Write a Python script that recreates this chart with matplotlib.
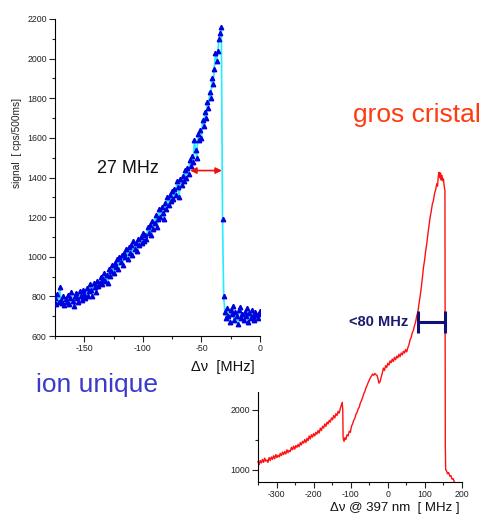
import numpy as np
import matplotlib
matplotlib.use('Agg')
import matplotlib.pyplot as plt

# -----------------------------
# Data
# -----------------------------
# single ion scan: frequency grid (MHz) and counts (cps/500ms)
ion_freq = np.arange(-175, 1)
ion_signal = [
    790, 760, 810, 770, 845, 780, 765, 800, 755, 785,
    770, 805, 760, 790, 820, 775, 750, 800, 815, 790,
    770, 825, 800, 780, 830, 810, 790, 840, 800, 825,
    860, 830, 800, 870, 845, 820, 880, 850, 870, 900,
    860, 890, 920, 880, 910, 870, 940, 905, 930, 960,
    920, 970, 950, 990, 940, 1000, 975, 1010, 960, 1020,
    1000, 1040, 990, 1050, 1020, 1060, 1010, 1080, 1040, 1070,
    1030, 1090, 1060, 1100, 1070, 1120, 1080, 1110, 1090, 1150,
    1120, 1160, 1110, 1180, 1140, 1170, 1210, 1150, 1190, 1240,
    1200, 1250, 1220, 1190, 1270, 1240, 1300, 1260, 1310, 1280,
    1330, 1290, 1340, 1310, 1380, 1350, 1300, 1390, 1360, 1410,
    1380, 1440, 1400, 1450, 1420, 1490, 1460, 1510, 1480, 1590,
    1540, 1500, 1620, 1590, 1640, 1600, 1690, 1660, 1730, 1700,
    1780, 1750, 1830, 1800, 1900, 1870, 1950, 2030, 1990, 2040,
    2100, 2130, 2160,
    1190, 800,
    720, 690, 740, 700, 670, 730, 710, 750, 680, 720,
    700, 660, 730, 745, 690, 710, 680, 720, 700, 740,
    670, 715, 690, 730, 700, 680, 720, 705, 690, 710,
    725,
]

# large crystal scan (MHz @ 397 nm) and counts
crystal_freq_low = np.arange(-350, -124, 3)          # slow rising wing
crystal_signal_low = [
    1130, 1080, 1150, 1110, 1170, 1120, 1190, 1140, 1160, 1120,
    1200, 1150, 1210, 1170, 1230, 1180, 1250, 1200, 1240, 1210,
    1270, 1230, 1290, 1250, 1300, 1260, 1330, 1280, 1320, 1300,
    1370, 1330, 1390, 1340, 1400, 1370, 1420, 1380, 1450, 1410,
    1470, 1440, 1500, 1450, 1520, 1480, 1560, 1510, 1580, 1540,
    1600, 1560, 1620, 1590, 1650, 1610, 1690, 1650, 1720, 1690,
    1760, 1720, 1790, 1760, 1820, 1790, 1860, 1830, 1900, 1860,
    1930, 1900, 1970, 1940, 2020, 2080,
]
crystal_freq_high = [
    -123, -121.5, -120.5, -118,
    -116, -113, -110, -107, -104, -101, -98, -95, -92, -89,
    -86, -83, -80, -77, -74, -71, -68, -65, -62, -59,
    -56, -53, -50, -47, -44, -41, -38, -35, -32, -29,
    -26, -24, -21, -18, -15, -12, -9, -6, -3, 0,
    3, 6, 9, 12, 15, 18, 21, 24, 27, 30,
    33, 36, 39, 42, 45, 48, 51, 54, 57, 60,
    63, 66, 69, 72, 75, 78, 81, 84, 87, 90,
    93, 96, 99, 102, 105, 108, 111, 114, 117, 120,
    123, 126, 129, 132, 134, 136, 138, 140, 142, 144,
    146, 148, 150, 152, 154, 155, 156, 158, 161, 164,
    167, 170, 173, 176, 179,
]
crystal_signal_high = [
    2120, 2000, 1520, 1470,
    1530, 1500, 1580, 1560, 1640, 1620, 1720, 1760, 1820, 1850,
    1920, 1950, 2010, 2040, 2110, 2150, 2200, 2260, 2300, 2360,
    2400, 2450, 2490, 2530, 2560, 2590, 2570, 2600, 2580, 2570,
    2500, 2440, 2460, 2540, 2600, 2690, 2650, 2730, 2700, 2770,
    2740, 2810, 2780, 2840, 2800, 2870, 2830, 2890, 2860, 2920,
    2880, 2940, 2910, 2970, 2940, 3000, 2960, 3030, 3080, 3160,
    3200, 3280, 3320, 3400, 3460, 3560, 3620, 3760, 3880, 4020,
    4180, 4360, 4480, 4640, 4760, 4920, 5060, 5200, 5300, 5420,
    5480, 5600, 5660, 5760, 5720, 5880, 5950, 5860, 5940, 5820,
    5900, 5810, 5840, 5720, 5650, 1400, 1000, 980, 930, 950,
    890, 900, 840, 850, 800,
]

# linewidth markers
arrow_27 = (-59.7, -32.5, 1435)        # x0, x1, y
bar_80 = (82.7, 155.0, 3460)           # x0, x1, y

W, H = 485, 519
plt.rcParams.update({
    'font.family': ['Liberation Sans', 'DejaVu Sans'],
    'font.size': 7,
    'axes.unicode_minus': False,
    'xtick.labelsize': 6.3,
    'ytick.labelsize': 6.3,
    'xtick.color': '#222222',
    'ytick.color': '#222222',
})

fig = plt.figure(figsize=(W / 100, H / 100), dpi=100)


def box(x0, y0, x1, y1):
    # pixel box (top-left origin) -> figure fraction rect
    return [x0 / W, 1 - y1 / H, (x1 - x0) / W, (y1 - y0) / H]


def ftxt(x, y, s, **kw):
    fig.text(x / W, 1 - y / H, s, **kw)


# -----------------------------
# right: big crystal
# -----------------------------
ax2 = fig.add_axes(box(258, 150, 462, 482))
ax2.set_facecolor('none')
crystal_freq = np.concatenate([crystal_freq_low, crystal_freq_high])
crystal_signal = crystal_signal_low + crystal_signal_high
ax2.plot(crystal_freq, crystal_signal, color='#ff1010', lw=1.0, clip_on=False)
ax2.set_xlim(-350, 200)
ax2.set_ylim(793, 6322)
for s in ('top', 'right'):
    ax2.spines[s].set_visible(False)
ax2.spines['left'].set_bounds(793, 2293)
ax2.set_xticks([-300, -200, -100, 0, 100, 200])
ax2.set_xticks(np.arange(-350, 201, 50), minor=True)
ax2.set_yticks([1000, 2000])
ax2.set_yticks([1500], minor=True)
ax2.tick_params(which='major', length=4, width=0.8, pad=2)
ax2.tick_params(which='minor', length=2.5, width=0.8)

x0, x1, yb = bar_80
ax2.errorbar((x0 + x1) / 2, yb, xerr=(x1 - x0) / 2, color='#10107a',
             elinewidth=2.2, capsize=8, capthick=2.2, fmt='none', zorder=6)

# -----------------------------
# left: single ion
# -----------------------------
ax1 = fig.add_axes(box(55, 19, 260, 336))
ax1.set_facecolor('none')
ax1.plot(ion_freq, ion_signal, color='#22eeff', lw=1.2, zorder=2)
ax1.plot(ion_freq, ion_signal, ls='none', marker='^', ms=3.2,
         color='#0000dd', mec='#0000dd', zorder=3)
ax1.set_xlim(-175, 0)
ax1.set_ylim(600, 2200)
for s in ('top', 'right'):
    ax1.spines[s].set_visible(False)
ax1.set_xticks([-150, -100, -50, 0])
ax1.set_xticks(np.arange(-175, 1, 25), minor=True)
ax1.set_yticks(np.arange(600, 2201, 200))
ax1.set_yticks(np.arange(700, 2200, 200), minor=True)
ax1.tick_params(which='major', length=4, width=0.8, pad=2)
ax1.tick_params(which='minor', length=2.5, width=0.8)

a0, a1, ya = arrow_27
ax1.annotate('', xy=(a1, ya), xytext=(a0, ya),
             arrowprops=dict(arrowstyle='<|-|>', color='#ee1111', lw=1.2,
                             mutation_scale=9, shrinkA=0, shrinkB=0),
             zorder=5)

# -----------------------------
# texts
# -----------------------------
ftxt(17, 143, 'signal  [ cps/500ms]', rotation=90, ha='center', va='center',
     fontsize=7.3, color='#222222')
ftxt(255, 367, 'Δν  [MHz]', ha='right', va='center', fontsize=10.5, color='#111111')
ftxt(460, 508, 'Δν @ 397 nm  [ MHz ]', ha='right', va='center', fontsize=9.5,
     color='#111111')
ftxt(97, 173, '27 MHz', ha='left', va='baseline', fontsize=13, color='#111111')
ftxt(36, 392, 'ion unique', ha='left', va='baseline', fontsize=19, color='#3a3acc')
ftxt(353, 122, 'gros cristal', ha='left', va='baseline', fontsize=19, color='#ff3a10')
ftxt(408, 326, '<80 MHz', ha='right', va='baseline', fontsize=10.5,
     fontweight='bold', color='#1a1a6e')

fig.savefig('out.png', dpi=100)
